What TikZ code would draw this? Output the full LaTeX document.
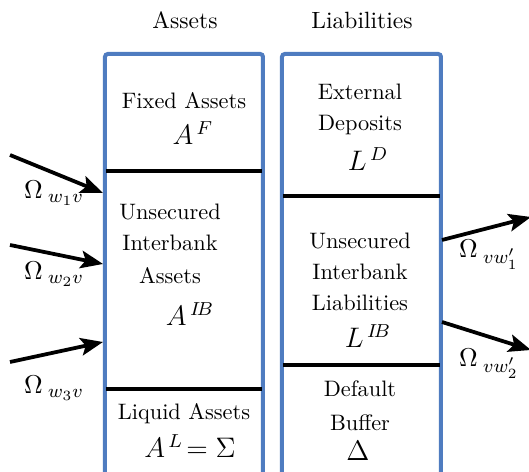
\documentclass[tikz,border=0pt]{standalone}
\usetikzlibrary{arrows.meta}
\definecolor{boxblue}{RGB}{79,124,192}
\tikzset{
  px/.style={x=0.425pt,y=-0.425pt},
  txt/.style={inner sep=0pt,font=\fontsize{9.5}{11}\selectfont},
  mth/.style={inner sep=0pt,font=\fontsize{12}{14}\selectfont},
  ttl/.style={inner sep=0pt,font=\fontsize{10}{12}\selectfont},
  lbl/.style={inner sep=0pt,font=\fontsize{11.3}{13}\selectfont},
  sheet/.style={draw=boxblue,line width=1.7pt,rounded corners=1.2pt},
  divider/.style={draw=black,line width=1.5pt},
  flow/.style={draw=black,line width=1.6pt,-{Stealth[length=9.5pt,width=7.5pt,inset=2pt]}}
}
\begin{document}
\begin{tikzpicture}[px]
\useasboundingbox (0,0) rectangle (529,472);
\clip (0,0) rectangle (529,472);
% titles
\node[ttl] (tA) at (185,20) {Assets};
\node[ttl] (tL) at (362,20) {Liabilities};
% boxes
\draw[sheet] (105,490) -- (105,54) -- (263,54) -- (263,490);
\draw[sheet] (282,490) -- (282,54) -- (441,54) -- (441,490);
% dividers
\coordinate (a1l) at (106,171); \coordinate (a1r) at (262,171);
\coordinate (a2l) at (106,389); \coordinate (a2r) at (262,389);
\coordinate (l1l) at (283,196); \coordinate (l1r) at (440,196);
\coordinate (l2l) at (283,365); \coordinate (l2r) at (440,365);
\draw[divider] (a1l) -- (a1r);
\draw[divider] (a2l) -- (a2r);
\draw[divider] (l1l) -- (l1r);
\draw[divider] (l2l) -- (l2r);
% asset texts
\node[txt] (fa) at (184,101) {Fixed Assets};
\node[mth] (af) at (193,133) {$A^{\,F}$};
\node[txt] (u1) at (170,212) {Unsecured};
\node[txt] (i1) at (170,243) {Interbank};
\node[txt] (as1) at (170,276) {Assets};
\node[mth] (aib) at (190,314) {$A^{\,I\!B}$};
\node[txt] (la) at (184,414) {Liquid Assets};
\node[mth] (al) at (190,446) {$A^{\,L}\!=\Sigma$};
% liability texts
\node[txt] (ex) at (360,92) {External};
\node[txt] (de) at (360,125) {Deposits};
\node[mth] (ld) at (368,159) {$L^{\,D}$};
\node[txt] (u2) at (360,241) {Unsecured};
\node[txt] (i2) at (360,272) {Interbank};
\node[txt] (li) at (360,303) {Liabilities};
\node[mth] (lib) at (368,336) {$L^{\,I\!B}$};
\node[txt] (df) at (360,389) {Default};
\node[txt] (bu) at (360,423) {Buffer};
\node[mth] (dl) at (358,451) {$\Delta$};
% arrows
\coordinate (s1) at (10,155); \coordinate (e1) at (103,193);
\coordinate (s2) at (10,245); \coordinate (e2) at (103,264);
\coordinate (s3) at (10,362); \coordinate (e3) at (103,342);
\coordinate (s4) at (442,240); \coordinate (e4) at (531,217);
\coordinate (s5) at (442,322); \coordinate (e5) at (531,350);
\draw[flow] (s1) -- (e1);
\draw[flow] (s2) -- (e2);
\draw[flow] (s3) -- (e3);
\draw[flow] (s4) -- (e4);
\draw[flow] (s5) -- (e5);
% labels
\node[lbl] (o1) at (54,193) {$\Omega_{\;w_1v}$};
\node[lbl] (o2) at (54,274) {$\Omega_{\;w_2v}$};
\node[lbl] (o3) at (54,388) {$\Omega_{\;w_3v}$};
\node[lbl] (o4) at (489,255) {$\Omega_{\;vw'_1}$};
\node[lbl] (o5) at (489,364) {$\Omega_{\;vw'_2}$};
\end{tikzpicture}
\end{document}
